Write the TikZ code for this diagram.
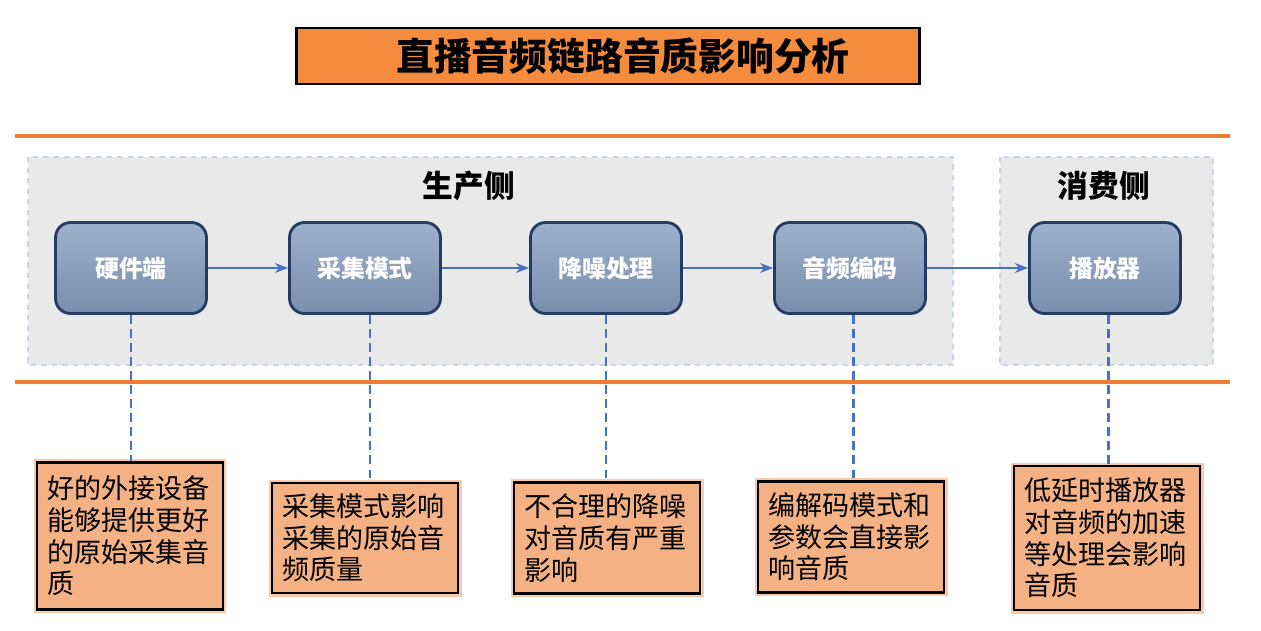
\documentclass[tikz,border=0pt]{standalone}
\usepackage{fontspec}
\newfontfamily\cjk{Noto Sans CJK SC}
\usepackage{tikz}
\usetikzlibrary{arrows.meta, positioning, backgrounds}
\definecolor{lineorange}{HTML}{ED7D31}
\definecolor{titleorange}{HTML}{F58B3C}
\definecolor{noteorange}{HTML}{F4B183}
\definecolor{noteglow}{HTML}{F8CBAD}
\definecolor{stageedge}{HTML}{243B63}
\definecolor{stagetop}{HTML}{9DB0CC}
\definecolor{stagebot}{HTML}{7A8EAD}
\definecolor{linkblue}{HTML}{4472C4}
\definecolor{zonefill}{HTML}{E9E9E9}
\definecolor{zoneedge}{HTML}{C8D4EA}

\begin{document}
\begin{tikzpicture}[
      x=0.02cm, y=-0.02cm,
      >=Stealth,
      every node/.style={font=\cjk},
      titlebox/.style={rectangle, draw=black, line width=1.6pt, fill=titleorange, minimum width=12.46cm, minimum height=1.12cm, font=\cjk\bfseries\fontsize{21.5}{24}\selectfont},
      zone/.style={draw=zoneedge, dashed, line width=0.9pt, fill=zonefill},
      zonelabel/.style={font=\cjk\bfseries\fontsize{17.5}{20}\selectfont},
      stage/.style={rectangle, rounded corners=0.3cm, draw=stageedge, line width=1.6pt, top color=stagetop, bottom color=stagebot, minimum width=3.02cm, minimum height=1.82cm, text=white, font=\cjk\bfseries\fontsize{13.6}{16}\selectfont},
      note/.style={rectangle, draw=black, line width=1.2pt, fill=noteorange, preaction={draw=noteglow, line width=4pt}, minimum width=3.72cm, align=left, text width=3.3cm, inner sep=0.2cm, font=\cjk\fontsize{15.4}{18}\selectfont},
      flow/.style={->, draw=linkblue, line width=1pt},
      tie/.style={draw=linkblue, line width=1.3pt, dash pattern=on 5pt off 3pt}
  ]
      \useasboundingbox (0,0) rectangle (1261,630);
      \fill[white] (0,0) rectangle (1261,630);

      % Title
      \node[titlebox] (title) at (608,56) {\hspace{0.6cm}直播音频链路音质影响分析};

      % Separators
      \draw[lineorange, line width=2.2pt] (15,136) -- (1230,136);
      \draw[lineorange, line width=2.2pt] (15,382) -- (1230,382);

      % Zones
      \draw[zone] (28,157) rectangle (953,365);
      \draw[zone] (1000,157) rectangle (1213,365);
      \node[zonelabel] (prod) at (469,186) {生产侧};
      \node[zonelabel] (cons) at (1104,186) {消费侧};

      % Stages
      \node[stage] (hw)  at (131,268)  {硬件端};
      \node[stage] (cap) at (365,268)  {采集模式};
      \node[stage] (dn)  at (606,268)  {降噪处理};
      \node[stage] (enc) at (850,268)  {音频编码};
      \node[stage] (ply) at (1105,268) {播放器};

      \draw[flow] (hw) -- (cap);
      \draw[flow] (cap) -- (dn);
      \draw[flow] (dn) -- (enc);
      \draw[flow] (enc) -- (ply);

      % Notes
      \node[note, minimum height=2.94cm] (nhw)  at (130,536)  {好的外接设备\\能够提供更好\\的原始采集音\\质};
      \node[note, minimum height=2.2cm]  (ncap) at (365,538)  {采集模式影响\\采集的原始音\\频质量};
      \node[note, minimum height=2.22cm] (ndn)  at (607,538)  {不合理的降噪\\对音质有严重\\影响};
      \node[note, minimum height=2.22cm] (nenc) at (851,537)  {编解码模式和\\参数会直接影\\响音质};
      \node[note, minimum height=2.88cm] (nply) at (1107,538) {低延时播放器\\对音频的加速\\等处理会影响\\音质};

      \draw[tie] (hw.south)  -- (hw.south |- nhw.north);
      \draw[tie] ([xshift=3]cap.south) -- ([xshift=3]cap.south |- ncap.north);
      \draw[tie] (dn.south)  -- (dn.south |- ndn.north);
      \draw[tie] ([xshift=2]enc.south) -- ([xshift=2]enc.south |- nenc.north);
      \draw[tie] ([xshift=2]ply.south) -- ([xshift=2]ply.south |- nply.north);

  \end{tikzpicture}
\end{document}
